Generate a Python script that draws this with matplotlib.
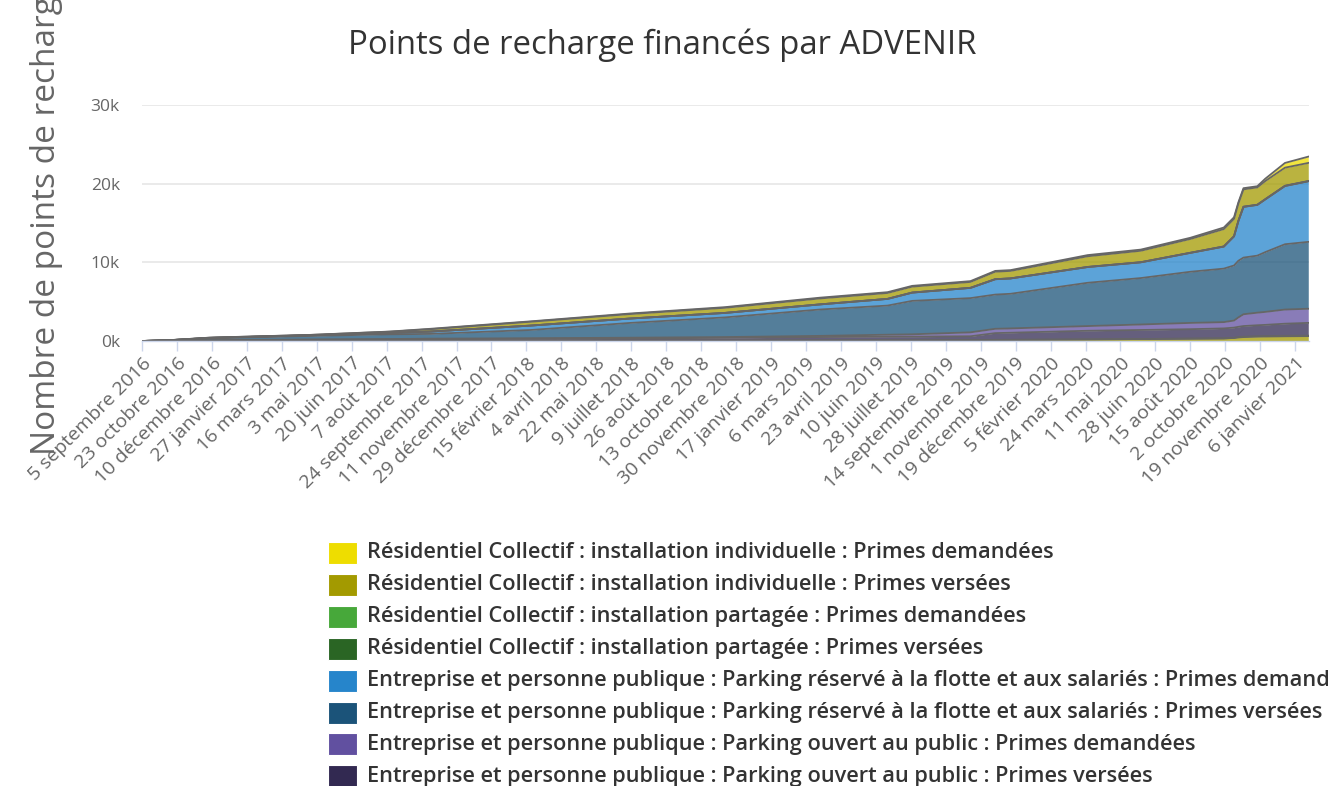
import numpy as np
import pandas as pd
import matplotlib
matplotlib.use("Agg")
import matplotlib.pyplot as plt
import matplotlib.dates as mdates
from matplotlib.patches import Rectangle

# ---------------- data ----------------
dates = ["2016-09-05", "2016-10-17", "2016-12-07", "2017-04-22", "2017-08-11",
         "2017-10-06", "2018-02-21", "2018-07-08", "2018-11-15", "2019-03-25",
         "2019-06-26", "2019-07-30", "2019-10-18", "2019-11-21", "2019-12-12",
         "2020-03-27", "2020-06-08", "2020-08-15", "2020-09-30", "2020-10-14",
         "2020-10-20", "2020-10-27", "2020-11-15", "2020-11-26", "2020-12-23",
         "2021-01-24"]

# stacked series (bottom -> top)
extra_olive = [0, 0, 0, 0, 20, 30, 50, 60, 70, 80, 100, 100, 120, 140, 150,
               200, 250, 300, 330, 380, 450, 500, 550, 570, 600, 620]
extra_yellow = [0, 0, 0, 0, 0, 0, 0, 0, 0, 0, 0, 0, 0, 0, 0,
                0, 0, 0, 0, 20, 40, 50, 60, 60, 60, 60]
public_versees = [0, 30, 80, 150, 180, 200, 230, 270, 330, 420, 450, 450, 480, 860, 900,
                  1100, 1150, 1200, 1270, 1300, 1310, 1350, 1390, 1420, 1540, 1620]
public_demandees = [0, 10, 20, 40, 50, 70, 70, 90, 100, 150, 250, 300, 500, 550, 550,
                    600, 700, 800, 800, 900, 1200, 1500, 1600, 1650, 1800, 1800]
flotte_versees = [0, 70, 250, 450, 600, 600, 1050, 1880, 2500, 3350, 3700, 4250, 4350, 4350, 4400,
                  5500, 5900, 6500, 6800, 7000, 7200, 7200, 7250, 7600, 8300, 8500]
flotte_demandees = [0, 10, 40, 80, 180, 300, 560, 560, 570, 650, 850, 1050, 1300, 1950, 1950,
                    2000, 2000, 2400, 2800, 3700, 5050, 6450, 6450, 6700, 7400, 7700]
partagee_versees = [0, 0, 0, 0, 0, 0, 0, 0, 0, 0, 0, 5, 5, 5, 5,
                    10, 10, 10, 10, 10, 10, 10, 10, 15, 15, 15]
partagee_demandees = [0, 0, 0, 0, 0, 0, 0, 0, 5, 5, 5, 5, 5, 5, 5,
                      10, 10, 10, 15, 15, 15, 15, 15, 20, 20, 20]
indiv_versees = [0, 10, 30, 40, 150, 300, 490, 570, 650, 750, 750, 750, 750, 950, 950,
                 1350, 1450, 1750, 2200, 2200, 2200, 2200, 2200, 2300, 2300, 2300]
indiv_demandees = [0, 0, 10, 10, 20, 50, 50, 70, 80, 100, 100, 100, 100, 100, 100,
                   150, 150, 150, 200, 200, 150, 150, 150, 300, 600, 800]

series_labels = [
    "Résidentiel Collectif : installation individuelle : Primes demandées",
    "Résidentiel Collectif : installation individuelle : Primes versées",
    "Résidentiel Collectif : installation partagée : Primes demandées",
    "Résidentiel Collectif : installation partagée : Primes versées",
    "Entreprise et personne publique : Parking réservé à la flotte et aux salariés : Primes demandées",
    "Entreprise et personne publique : Parking réservé à la flotte et aux salariés : Primes versées",
    "Entreprise et personne publique : Parking ouvert au public : Primes demandées",
    "Entreprise et personne publique : Parking ouvert au public : Primes versées",
]
series_colors = ["#EEDD00", "#A39A00", "#47A83A", "#2A6524",
                 "#2685CB", "#1B5379", "#6150A0", "#322951"]

tick_labels = ["5 septembre 2016", "23 octobre 2016", "10 décembre 2016", "27 janvier 2017",
               "16 mars 2017", "3 mai 2017", "20 juin 2017", "7 août 2017",
               "24 septembre 2017", "11 novembre 2017", "29 décembre 2017", "15 février 2018",
               "4 avril 2018", "22 mai 2018", "9 juillet 2018", "26 août 2018",
               "13 octobre 2018", "30 novembre 2018", "17 janvier 2019", "6 mars 2019",
               "23 avril 2019", "10 juin 2019", "28 juillet 2019", "14 septembre 2019",
               "1 novembre 2019", "19 décembre 2019", "5 février 2020", "24 mars 2020",
               "11 mai 2020", "28 juin 2020", "15 août 2020", "2 octobre 2020",
               "19 novembre 2020", "6 janvier 2021"]
y_ticks = [0, 10000, 20000, 30000]
y_tick_labels = ["0k", "10k", "20k", "30k"]

title = "Points de recharge financés par ADVENIR"
ylabel = "Nombre de points de recharge"

# ---------------- helpers ----------------
mois = {"janvier": 1, "février": 2, "mars": 3, "avril": 4, "mai": 5, "juin": 6,
        "juillet": 7, "août": 8, "septembre": 9, "octobre": 10, "novembre": 11,
        "décembre": 12}


def parse_fr(s):
    d, m, y = s.split(" ")
    return pd.Timestamp(year=int(y), month=mois[m], day=int(d))


W, H = 1330, 786
fig = plt.figure(figsize=(W / 100, H / 100), dpi=100)
renderer = fig.canvas.get_renderer()


def fx(px):
    return px / W


def fy(py):
    return 1 - py / H


def fit(txt, target_px, probe=None):
    if probe is not None:
        t = fig.text(0, 0, probe, fontproperties=txt.get_fontproperties())
        w = t.get_window_extent(renderer=renderer).width
        t.remove()
    else:
        w = txt.get_window_extent(renderer=renderer).width
    txt.set_fontsize(txt.get_fontsize() * target_px / w)


FONT = "Open Sans"
ax = fig.add_axes([fx(142), fy(341), fx(1309 - 142), (341 - 105) / H])

x = mdates.date2num(pd.to_datetime(dates))
stack = [extra_olive, extra_yellow, public_versees, public_demandees, flotte_versees,
         flotte_demandees, partagee_versees, partagee_demandees, indiv_versees, indiv_demandees]
colors = ["#A39A00", "#EEDD00"] + series_colors[::-1]
base = np.zeros(len(x))
for vals, col in zip(stack, colors):
    top = base + np.asarray(vals, dtype=float)
    ax.fill_between(x, base, top, color=col, alpha=0.75, lw=0, zorder=2)
    ax.plot(x, top, color="#666666", lw=1.3, zorder=3, solid_joinstyle="round")
    base = top

ax.set_ylim(0, 30000)
ax.set_xlim(mdates.date2num(pd.Timestamp("2016-09-05")),
            mdates.date2num(pd.Timestamp("2021-01-25")))

ax.set_yticks(y_ticks)
ax.set_yticklabels(y_tick_labels, fontfamily=FONT, fontsize=12.5, color="#666666")
ax.tick_params(axis="y", length=0, pad=16)
ax.yaxis.grid(True, color="#e6e6e6", lw=1.2, zorder=0)
ax.set_axisbelow(True)

tick_x = mdates.date2num([parse_fr(s) for s in tick_labels])
ax.set_xticks(tick_x)
ax.set_xticklabels(tick_labels, rotation=45, ha="right", va="top",
                   rotation_mode="anchor", fontfamily=FONT, fontsize=14, color="#666666")
ax.tick_params(axis="x", length=7.5, width=1, color="#ccd6eb", direction="out", pad=2)

for s in ["top", "right", "left"]:
    ax.spines[s].set_visible(False)
ax.spines["bottom"].set_color("#ccd6eb")
ax.spines["bottom"].set_linewidth(1)
ax.spines["bottom"].set_zorder(4)

# title
t = fig.text(fx(662), fy(45), title, ha="center", va="center",
             fontfamily=FONT, fontsize=22, color="#333333")
fit(t, 628)

# y label (cut by the top edge, as in the original)
yl = fig.text(fx(47), fy(455), ylabel, rotation=90, ha="center", va="bottom",
              fontfamily=FONT, fontsize=24, color="#666666")
fit(yl, 460, probe="Nombre de points de recharg")

# legend
lt0 = fig.text(0, 0, series_labels[0], fontfamily=FONT, fontweight="semibold", fontsize=14)
fit(lt0, 695)
lfs = lt0.get_fontsize()
lt0.remove()
for i, (lab, col) in enumerate(zip(series_labels, series_colors)):
    yc = 553 + i * 31.9
    fig.patches.append(Rectangle((fx(328), fy(yc + 11)), fx(29), 22 / H,
                                 transform=fig.transFigure, facecolor=col,
                                 edgecolor="white", lw=0.8))
    fig.text(fx(367), fy(yc), lab, ha="left", va="center", fontfamily=FONT,
             fontweight="semibold", fontsize=lfs, color="#333333")

fig.savefig("out.png", dpi=100)
